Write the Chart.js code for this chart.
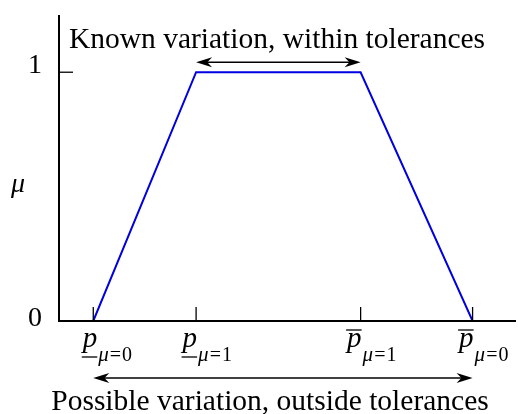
<!DOCTYPE html>
<html>
<head>
<meta charset="UTF-8" />
<title>Membership function</title>
<script src="https://cdn.jsdelivr.net/npm/chart.js"></script>
<style>
  html, body { margin: 0; padding: 0; background: #fff; }
  .wrap { width: 518px; height: 414px; }
</style>
</head>
<body>
<div class="wrap"><canvas id="fuzzy" width="518" height="414"></canvas></div>
<script>
// trapezoid corners: parameter p and membership mu
const pValues = [0.75, 3.0, 6.6, 9.05];
const muValues = [0, 1, 1, 0];

// x tick labels: p with a bar (under = lower bound, over = upper bound)
const tickBars = ['under', 'under', 'over', 'over'];
const tickSubs = ['0', '1', '1', '0'];

// y axis ticks
const yTicks = [0, 1];
const yTickLabels = ['0', '1'];

const topNote = 'Known variation, within tolerances';
const bottomNote = 'Possible variation, outside tolerances';

const SERIF = '"Liberation Serif", serif';

function arrowHead(ctx, tx, ty, dir) {
  const len = 16, hw = 5;
  ctx.beginPath();
  ctx.moveTo(tx, ty);
  ctx.lineTo(tx - dir * len, ty - hw);
  ctx.lineTo(tx - dir * len * 0.7, ty);
  ctx.lineTo(tx - dir * len, ty + hw);
  ctx.closePath();
  ctx.fill();
}

function doubleArrow(ctx, x1, x2, y) {
  ctx.beginPath();
  ctx.moveTo(x1 + 6, y);
  ctx.lineTo(x2 - 6, y);
  ctx.stroke();
  arrowHead(ctx, x1, y, -1);
  arrowHead(ctx, x2, y, 1);
}

const axesPlugin = {
  id: 'axesPlugin',
  afterDraw(chart) {
    const ctx = chart.ctx;
    const area = chart.chartArea;
    const xs = chart.scales.x, ys = chart.scales.y;
    ctx.save();
    ctx.strokeStyle = '#000';
    ctx.fillStyle = '#000';

    // axis lines
    ctx.lineWidth = 2;
    ctx.beginPath();
    ctx.moveTo(area.left, area.top);
    ctx.lineTo(area.left, area.bottom);
    ctx.lineTo(area.right, area.bottom);
    ctx.stroke();

    // y ticks and labels
    ctx.lineWidth = 1.3;
    ctx.font = '28px ' + SERIF;
    ctx.textAlign = 'right';
    ctx.textBaseline = 'alphabetic';
    yTicks.forEach((v, i) => {
      const py = ys.getPixelForValue(v);
      if (v > 0) {
        ctx.beginPath();
        ctx.moveTo(area.left, py);
        ctx.lineTo(area.left + 14, py);
        ctx.stroke();
      }
      ctx.fillText(yTickLabels[i], area.left - 17, v > 0 ? py + 1 : py + 5);
    });

    // y axis title
    ctx.font = 'italic 28px ' + SERIF;
    ctx.textAlign = 'center';
    ctx.fillText('\u03bc', 18, 192);

    // x ticks with p labels
    pValues.forEach((v, i) => {
      const px = xs.getPixelForValue(v);
      ctx.lineWidth = 1.3;
      ctx.beginPath();
      ctx.moveTo(px, area.bottom);
      ctx.lineTo(px, area.bottom - 14);
      ctx.stroke();

      ctx.font = 'italic 29px ' + SERIF;
      ctx.textAlign = 'right';
      const pRight = px + (i === 0 ? 4 : 1);
      const pW = ctx.measureText('p').width;
      ctx.fillText('p', pRight, 347);
      ctx.lineWidth = 1.3;
      ctx.beginPath();
      const barY = tickBars[i] === 'under' ? 357 : 330;
      ctx.moveTo(pRight - pW - 1, barY);
      ctx.lineTo(pRight, barY);
      ctx.stroke();

      // subscript mu=k
      ctx.textAlign = 'left';
      ctx.font = 'italic 21px ' + SERIF;
      let sx = pRight + 1;
      ctx.fillText('\u03bc', sx, 361);
      sx += ctx.measureText('\u03bc').width + 1;
      ctx.font = '20px ' + SERIF;
      ctx.fillText('=', sx, 361);
      sx += ctx.measureText('=').width + 1;
      ctx.fillText(tickSubs[i], sx, 361);
    });

    // variation arrows
    ctx.lineWidth = 1.6;
    const x0 = xs.getPixelForValue(pValues[0]);
    const x1 = xs.getPixelForValue(pValues[1]);
    const x2 = xs.getPixelForValue(pValues[2]);
    const x3 = xs.getPixelForValue(pValues[3]);
    doubleArrow(ctx, x1, x2, ys.getPixelForValue(1) - 10);
    doubleArrow(ctx, x0, x3, area.bottom + 57);

    ctx.font = '29.5px ' + SERIF;
    ctx.textAlign = 'center';
    ctx.fillText(topNote, 277, 48);
    ctx.fillText(bottomNote, 270, 410);
    ctx.restore();
  }
};

new Chart(document.getElementById('fuzzy').getContext('2d'), {
  type: 'line',
  data: {
    datasets: [{
      data: pValues.map((p, i) => ({ x: p, y: muValues[i] })),
      borderColor: '#0000e0',
      borderWidth: 2,
      pointRadius: 0,
      tension: 0,
      fill: false
    }]
  },
  options: {
    responsive: false,
    animation: false,
    layout: { padding: { left: 59, right: 2, top: 15, bottom: 93 } },
    plugins: { legend: { display: false }, tooltip: { enabled: false } },
    scales: {
      x: { type: 'linear', min: 0, max: 10, display: false },
      y: { type: 'linear', min: 0, max: 1.23, display: false }
    }
  },
  plugins: [axesPlugin]
});
</script>
</body>
</html>
